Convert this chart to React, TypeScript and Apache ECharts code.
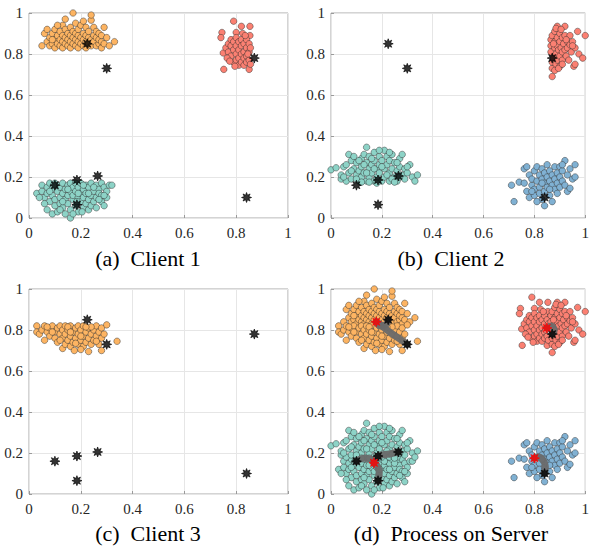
import React, { useEffect, useRef } from "react";
import * as echarts from "echarts";

// ---------- data ----------
const xTicks = [0, 0.2, 0.4, 0.6, 0.8, 1];
const yTicks = [0, 0.2, 0.4, 0.6, 0.8, 1];
const captions = ["(a)  Client 1", "(b)  Client 2", "(c)  Client 3", "(d)  Process on Server"];

const aOrange = [
  [0.05,0.84],[0.06,0.90],[0.07,0.92],[0.07,0.86],[0.08,0.84],[0.08,0.88],[0.09,0.85],[0.09,0.90],[0.10,0.83],[0.10,0.87],
  [0.10,0.92],[0.11,0.85],[0.11,0.89],[0.12,0.84],[0.12,0.87],[0.12,0.91],[0.13,0.83],[0.13,0.86],[0.13,0.89],[0.13,0.94],
  [0.14,0.85],[0.14,0.88],[0.14,0.92],[0.14,0.97],[0.15,0.84],[0.15,0.87],[0.15,0.90],[0.16,0.83],[0.16,0.86],[0.16,0.89],
  [0.16,0.93],[0.17,0.85],[0.17,0.88],[0.17,0.91],[0.17,1.00],[0.18,0.84],[0.18,0.87],[0.18,0.90],[0.18,0.95],[0.19,0.83],
  [0.19,0.86],[0.19,0.89],[0.19,0.92],[0.20,0.85],[0.20,0.88],[0.20,0.94],[0.21,0.84],[0.21,0.87],[0.21,0.90],[0.21,0.96],
  [0.22,0.83],[0.22,0.86],[0.22,0.89],[0.22,0.93],[0.23,0.85],[0.23,0.88],[0.23,0.91],[0.24,0.84],[0.24,0.87],[0.24,0.965],
  [0.24,0.99],[0.25,0.86],[0.25,0.89],[0.25,0.93],[0.26,0.84],[0.26,0.88],[0.26,0.91],[0.27,0.85],[0.27,0.87],[0.27,0.90],
  [0.28,0.83],[0.28,0.86],[0.28,0.89],[0.29,0.93],[0.29,0.85],[0.30,0.88],[0.31,0.84],[0.33,0.86],[0.11,0.94],[0.09,0.87]
];
const aRed = [
  [0.79,0.96],[0.82,0.935],[0.853,0.935],[0.745,0.905],[0.741,0.88],[0.80,0.905],[0.825,0.90],[0.853,0.89],[0.75,0.805],[0.752,0.725],
  [0.85,0.725],[0.76,0.83],[0.77,0.85],[0.77,0.81],[0.78,0.87],[0.78,0.84],[0.78,0.79],[0.79,0.82],[0.79,0.86],[0.79,0.76],
  [0.80,0.88],[0.80,0.84],[0.80,0.80],[0.80,0.77],[0.81,0.86],[0.81,0.82],[0.81,0.78],[0.81,0.745],[0.82,0.87],[0.82,0.84],
  [0.82,0.80],[0.82,0.76],[0.83,0.85],[0.83,0.81],[0.83,0.78],[0.83,0.745],[0.84,0.87],[0.84,0.83],[0.84,0.79],[0.84,0.76],
  [0.85,0.85],[0.85,0.81],[0.85,0.77],[0.855,0.83],[0.855,0.75],[0.765,0.78],[0.775,0.765],[0.795,0.74],[0.835,0.89],[0.845,0.80]
];
const aTeal = [
  [0.03,0.12],[0.05,0.16],[0.05,0.13],[0.06,0.10],[0.07,0.04],[0.07,0.15],[0.07,0.12],[0.08,0.08],[0.08,0.17],[0.09,0.02],
  [0.09,0.14],[0.09,0.11],[0.10,0.06],[0.10,0.17],[0.10,0.09],[0.11,0.13],[0.11,0.03],[0.11,0.16],[0.12,0.10],[0.12,0.07],
  [0.12,0.15],[0.13,0.12],[0.13,0.05],[0.13,0.17],[0.14,0.09],[0.14,0.14],[0.14,0.02],[0.15,0.11],[0.15,0.16],[0.15,0.07],
  [0.16,0.00],[0.16,0.13],[0.16,0.04],[0.16,0.17],[0.17,0.09],[0.17,0.15],[0.17,0.11],[0.18,0.06],[0.18,0.13],[0.18,0.17],
  [0.19,0.03],[0.19,0.10],[0.19,0.15],[0.20,0.08],[0.20,0.12],[0.20,0.17],[0.21,0.05],[0.21,0.14],[0.21,0.10],[0.22,0.16],
  [0.22,0.07],[0.22,0.12],[0.23,0.04],[0.23,0.09],[0.23,0.15],[0.24,0.11],[0.24,0.17],[0.24,0.06],[0.25,0.13],[0.25,0.08],
  [0.26,0.16],[0.26,0.10],[0.26,0.05],[0.27,0.14],[0.27,0.12],[0.28,0.08],[0.28,0.17],[0.28,0.11],[0.29,0.15],[0.29,0.06],
  [0.30,0.10],[0.30,0.13],[0.31,0.16],[0.32,0.16],[0.06,0.07],[0.08,0.13],[0.13,0.08],[0.15,0.14],[0.19,0.12],[0.21,0.16],
  [0.23,0.12],[0.25,0.15],[0.27,0.09],[0.17,0.02],[0.12,0.04],[0.04,0.10],[0.095,0.16],[0.185,0.08],[0.205,0.03],[0.29,0.11]
];
const bRed = [
  [0.865,0.87],[0.865,0.84],[0.865,0.81],[0.87,0.69],[0.87,0.73],[0.87,0.76],[0.87,0.89],[0.875,0.78],[0.88,0.83],[0.88,0.86],
  [0.88,0.91],[0.885,0.75],[0.885,0.80],[0.89,0.935],[0.89,0.88],[0.89,0.84],[0.89,0.77],[0.895,0.82],[0.90,0.86],[0.90,0.90],
  [0.90,0.79],[0.90,0.74],[0.905,0.83],[0.91,0.88],[0.91,0.81],[0.91,0.77],[0.915,0.85],[0.92,0.935],[0.92,0.89],[0.92,0.82],
  [0.925,0.79],[0.93,0.86],[0.93,0.83],[0.935,0.77],[0.94,0.89],[0.94,0.845],[0.945,0.81],[0.95,0.86],[0.955,0.74],[0.96,0.83],
  [0.96,0.75],[0.97,0.91],[0.975,0.80],[0.99,0.78],[1.0,0.89],[0.88,0.72],[0.895,0.73],[0.91,0.75],[0.875,0.85],[0.925,0.87],
  [0.885,0.925],[0.95,0.84],[0.905,0.92]
];
const bTeal = [
  [0.00,0.235],[0.02,0.245],[0.04,0.19],[0.04,0.21],[0.05,0.25],[0.06,0.18],[0.06,0.26],[0.07,0.31],[0.07,0.22],[0.08,0.19],
  [0.08,0.28],[0.09,0.24],[0.09,0.30],[0.10,0.21],[0.10,0.27],[0.11,0.18],[0.11,0.23],[0.12,0.29],[0.12,0.25],[0.12,0.20],
  [0.13,0.31],[0.13,0.22],[0.14,0.345],[0.14,0.27],[0.14,0.18],[0.15,0.24],[0.15,0.30],[0.15,0.20],[0.16,0.26],[0.16,0.22],
  [0.17,0.32],[0.17,0.18],[0.17,0.28],[0.18,0.24],[0.18,0.20],[0.19,0.30],[0.19,0.26],[0.19,0.22],[0.20,0.18],[0.20,0.28],
  [0.21,0.33],[0.21,0.24],[0.21,0.20],[0.22,0.30],[0.22,0.26],[0.23,0.22],[0.23,0.18],[0.23,0.28],[0.24,0.31],[0.24,0.24],
  [0.25,0.20],[0.25,0.27],[0.26,0.23],[0.26,0.18],[0.27,0.29],[0.27,0.25],[0.28,0.21],[0.28,0.31],[0.29,0.24],[0.29,0.19],
  [0.30,0.22],[0.31,0.26],[0.32,0.20],[0.33,0.18],[0.34,0.21],[0.10,0.19],[0.13,0.26],[0.16,0.29],[0.18,0.17],[0.20,0.25],
  [0.22,0.21],[0.24,0.19],[0.26,0.27],[0.11,0.28],[0.08,0.23],[0.15,0.175],[0.25,0.175],[0.19,0.33],[0.27,0.20],[0.05,0.20],
  [0.12,0.175],[0.30,0.25],[0.23,0.32],[0.17,0.24],[0.14,0.22]
];
const bBlue = [
  [0.71,0.16],[0.72,0.08],[0.74,0.175],[0.76,0.24],[0.77,0.25],[0.76,0.17],[0.77,0.13],[0.78,0.21],[0.78,0.10],[0.79,0.16],
  [0.79,0.19],[0.80,0.23],[0.80,0.14],[0.80,0.11],[0.81,0.18],[0.81,0.25],[0.82,0.21],[0.82,0.15],[0.82,0.12],[0.83,0.19],
  [0.83,0.24],[0.83,0.09],[0.84,0.17],[0.84,0.22],[0.84,0.13],[0.84,0.06],[0.85,0.20],[0.85,0.15],[0.85,0.26],[0.86,0.18],
  [0.86,0.23],[0.86,0.11],[0.87,0.16],[0.87,0.21],[0.87,0.08],[0.88,0.19],[0.88,0.25],[0.88,0.14],[0.89,0.17],[0.89,0.22],
  [0.90,0.20],[0.90,0.15],[0.90,0.25],[0.91,0.18],[0.91,0.23],[0.92,0.28],[0.92,0.16],[0.93,0.21],[0.93,0.13],[0.94,0.145],
  [0.94,0.24],[0.95,0.19],[0.96,0.26],[0.96,0.20],[0.79,0.13],[0.81,0.08],[0.86,0.14],[0.83,0.17],[0.89,0.12],[0.91,0.26]
];
const cOrange = [
  [0.03,0.82],[0.03,0.79],[0.04,0.78],[0.05,0.80],[0.06,0.75],[0.06,0.82],[0.07,0.79],[0.08,0.81],[0.08,0.77],[0.09,0.82],
  [0.10,0.79],[0.10,0.76],[0.11,0.81],[0.11,0.74],[0.12,0.78],[0.12,0.82],[0.13,0.71],[0.13,0.76],[0.13,0.80],[0.14,0.73],
  [0.14,0.78],[0.14,0.82],[0.15,0.75],[0.15,0.80],[0.16,0.72],[0.16,0.77],[0.16,0.82],[0.17,0.79],[0.17,0.74],[0.175,0.70],
  [0.18,0.76],[0.18,0.81],[0.19,0.73],[0.19,0.78],[0.19,0.82],[0.20,0.75],[0.20,0.80],[0.21,0.72],[0.21,0.77],[0.21,0.82],
  [0.22,0.74],[0.22,0.79],[0.23,0.695],[0.23,0.76],[0.23,0.81],[0.24,0.73],[0.24,0.78],[0.25,0.75],[0.25,0.80],[0.26,0.77],
  [0.26,0.82],[0.27,0.73],[0.27,0.79],[0.28,0.70],[0.28,0.76],[0.28,0.81],[0.29,0.78],[0.30,0.825],[0.34,0.745],[0.12,0.75],
  [0.15,0.815],[0.18,0.735],[0.20,0.705],[0.24,0.815],[0.09,0.79],[0.16,0.79],[0.22,0.815],[0.26,0.745],[0.07,0.815],[0.20,0.77]
];
const globalCenters = [
  [0.225,0.85],[0.30,0.73],[0.87,0.78],[0.84,0.10],[0.10,0.16],[0.185,0.185],[0.265,0.205],[0.185,0.065]
];
const serverCenters = [[0.178,0.84],[0.849,0.81],[0.80,0.175],[0.169,0.152]];
const trajectories = [
  [[0.30,0.73],[0.26,0.765],[0.22,0.80],[0.19,0.83],[0.178,0.84]],
  [[0.225,0.85],[0.215,0.825],[0.195,0.82],[0.178,0.84]],
  [[0.87,0.78],[0.878,0.80],[0.865,0.82],[0.849,0.81]],
  [[0.84,0.10],[0.843,0.135],[0.835,0.163],[0.818,0.18],[0.80,0.175]],
  [[0.10,0.16],[0.13,0.175],[0.155,0.172],[0.169,0.152]],
  [[0.265,0.205],[0.23,0.195],[0.185,0.185],[0.169,0.152]],
  [[0.185,0.065],[0.19,0.105],[0.18,0.14],[0.169,0.152]]
];

// ---------- styling ----------
const ORANGE = "#FDB462";
const RED = "#FB8072";
const TEAL = "#8DD3C7";
const BLUE = "#80B1D3";
const SERIF = "Liberation Serif";

const gridBoxes = [
  { left: 29, top: 13 },
  { left: 331, top: 13 },
  { left: 29, top: 289 },
  { left: 331, top: 289 },
];
const GW = 259;
const GH = 205;
const captionPos = [
  [148, 258],
  [451, 258],
  [148, 533],
  [451, 533],
];

function starPath(n: number, inner: number) {
  let d = "";
  for (let i = 0; i < 2 * n; i++) {
    const a = (i * Math.PI) / n - Math.PI / 2;
    const r = i % 2 === 0 ? 50 : 50 * inner;
    const x = 50 + r * Math.cos(a);
    const y = 50 + r * Math.sin(a);
    d += (i === 0 ? "M" : "L") + x.toFixed(2) + " " + y.toFixed(2);
  }
  return "path://" + d + "Z";
}

export default function App() {
  const ref = useRef<HTMLDivElement>(null);
  useEffect(() => {
    if (!ref.current) return;
    const chart = echarts.init(ref.current, undefined, { renderer: "svg" });
    const STAR = starPath(8, 0.5);

    const panelClusters = [
      [[aOrange, ORANGE], [aRed, RED], [aTeal, TEAL]],
      [[bRed, RED], [bTeal, TEAL], [bBlue, BLUE]],
      [[cOrange, ORANGE]],
      [[aOrange.concat(cOrange), ORANGE], [aRed.concat(bRed), RED], [aTeal.concat(bTeal), TEAL], [bBlue, BLUE]],
    ] as any[];

    const series: any[] = [];
    panelClusters.forEach((clusters: any[], p: number) => {
      clusters.forEach(([data, color]: any) => {
        series.push({
          type: "scatter",
          xAxisIndex: p,
          yAxisIndex: p,
          data,
          symbol: "circle",
          symbolSize: 6.5,
          itemStyle: { color, borderColor: "rgba(40,40,40,0.75)", borderWidth: 0.6, opacity: 1 },
          z: 2,
          silent: true,
        });
      });
    });
    trajectories.forEach((tr) => {
      series.push({
        type: "line",
        xAxisIndex: 3,
        yAxisIndex: 3,
        data: tr,
        smooth: 0.4,
        showSymbol: false,
        symbol: "none",
        lineStyle: { color: "#6a6a6a", width: 7, opacity: 0.95, cap: "round", join: "round" },
        z: 3,
        silent: true,
      });
    });
    for (let p = 0; p < 4; p++) {
      series.push({
        type: "scatter",
        xAxisIndex: p,
        yAxisIndex: p,
        data: globalCenters,
        symbol: STAR,
        symbolSize: 10,
        itemStyle: { color: "#000000", borderColor: "#000000", borderWidth: 0.8 },
        z: 4,
        silent: true,
      });
    }
    series.push({
      type: "scatter",
      xAxisIndex: 3,
      yAxisIndex: 3,
      data: serverCenters,
      symbol: STAR,
      symbolSize: 10,
      itemStyle: { color: "#ff0000", borderColor: "#ff0000", borderWidth: 0.8 },
      z: 5,
      silent: true,
    });

    const axisCommon = {
      type: "value",
      min: xTicks[0],
      max: xTicks[xTicks.length - 1],
      interval: 0.2,
      axisLine: { show: false },
      axisTick: { show: true, inside: true, length: 3, lineStyle: { color: "#9a9a9a" } },
      splitLine: { show: true, lineStyle: { color: "#e6e6e6", width: 1 } },
      axisLabel: { color: "#262626", fontFamily: SERIF, fontSize: 15 },
    };

    chart.setOption({
      animation: false,
      grid: gridBoxes.map((g) => ({
        left: g.left,
        top: g.top,
        width: GW,
        height: GH,
        show: true,
        borderColor: "#a8a8a8",
        borderWidth: 1,
        backgroundColor: "#ffffff",
        containLabel: false,
      })),
      xAxis: gridBoxes.map((_, i) => ({
        ...axisCommon,
        gridIndex: i,
        min: xTicks[0],
        max: xTicks[xTicks.length - 1],
        axisLabel: { ...axisCommon.axisLabel, margin: 7 },
      })),
      yAxis: gridBoxes.map((_, i) => ({
        ...axisCommon,
        gridIndex: i,
        min: yTicks[0],
        max: yTicks[yTicks.length - 1],
        axisLabel: { ...axisCommon.axisLabel, margin: 6 },
      })),
      graphic: captions.map((c, i) => ({
        type: "text",
        x: captionPos[i][0],
        y: captionPos[i][1],
        style: {
          text: c,
          fontFamily: SERIF,
          fontSize: 22,
          fill: "#000000",
          align: "center",
          verticalAlign: "middle",
        },
      })),
      series,
    });
    return () => chart.dispose();
  }, []);
  return (
    <div
      ref={ref}
      style={{ position: "absolute", left: 0, top: 0, width: 592, height: 548, background: "#fff" }}
    />
  );
}
